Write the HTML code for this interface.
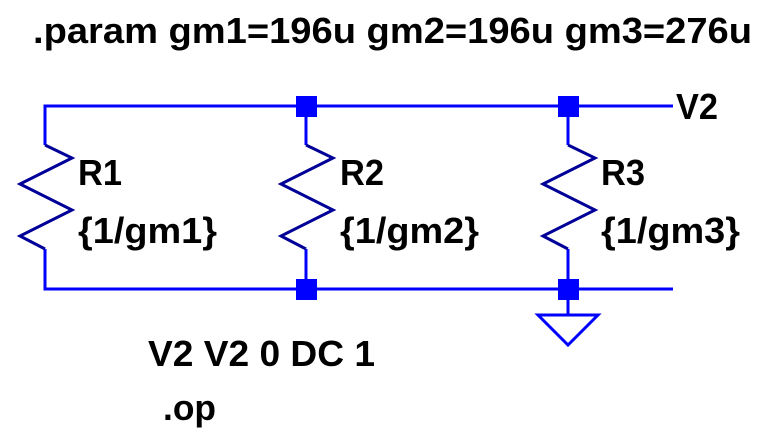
<!DOCTYPE html>
<html><head><style>html,body{margin:0;padding:0;background:#fff;width:760px;height:430px;overflow:hidden}</style></head>
<body>
<svg width="760" height="430" xmlns="http://www.w3.org/2000/svg" font-family="Liberation Sans, Arial, sans-serif" font-weight="bold" font-size="36">
<g stroke="#0000ff" stroke-width="3" fill="none">
<polyline points="45,145 45,106 673,106"/>
<polyline points="45,249 45,289 673,289"/>
<line x1="306" y1="106" x2="306" y2="145"/><line x1="306" y1="249" x2="306" y2="289"/>
<line x1="568" y1="106" x2="568" y2="145"/><line x1="568" y1="249" x2="568" y2="315"/>
<polygon points="538,315 598,315 568,345"/>
</g>
<g stroke="#000099" stroke-width="3" fill="none">
<polyline points="45,145 72,158 20,184 72,210 20,236 45,249"/>
<polyline points="306,145 333,158 281,184 333,210 281,236 306,249"/>
<polyline points="568,145 595,158 543,184 595,210 543,236 568,249"/>
</g>
<g fill="#0000ff">
<rect x="296" y="96" width="21" height="21"/><rect x="296" y="279" width="21" height="21"/>
<rect x="558" y="96" width="21" height="21"/><rect x="558" y="279" width="21" height="21"/>
</g>
<g fill="#000">
<text x="33" y="43" textLength="719" lengthAdjust="spacingAndGlyphs">.param gm1=196u gm2=196u gm3=276u</text>
<text x="676" y="119" textLength="42" lengthAdjust="spacingAndGlyphs">V2</text>
<text x="78" y="185" textLength="44" lengthAdjust="spacingAndGlyphs">R1</text>
<text x="78" y="243" textLength="139" lengthAdjust="spacingAndGlyphs">{1/gm1}</text>
<text x="340" y="185" textLength="44" lengthAdjust="spacingAndGlyphs">R2</text>
<text x="340" y="243" textLength="139" lengthAdjust="spacingAndGlyphs">{1/gm2}</text>
<text x="601" y="185" textLength="44" lengthAdjust="spacingAndGlyphs">R3</text>
<text x="601" y="243" textLength="139" lengthAdjust="spacingAndGlyphs">{1/gm3}</text>
<text x="148" y="366" textLength="227" lengthAdjust="spacingAndGlyphs">V2 V2 0 DC 1</text>
<text x="163" y="420" textLength="53" lengthAdjust="spacingAndGlyphs">.op</text>
</g>
</svg>
</body></html>
